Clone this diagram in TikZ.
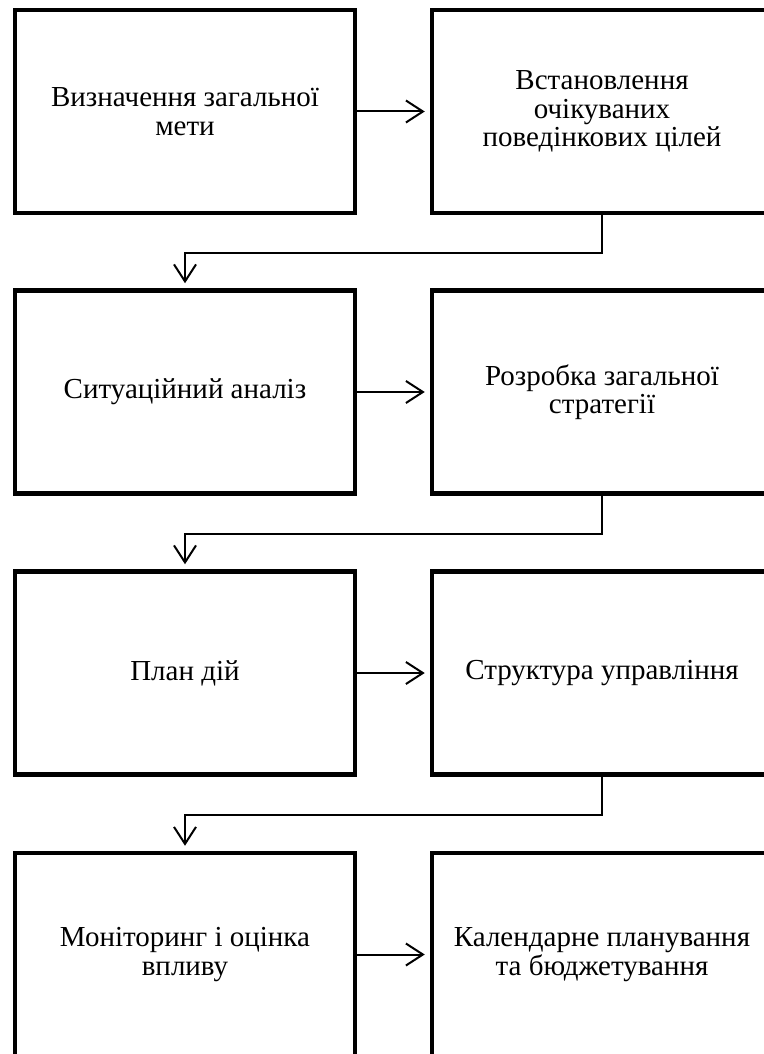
\documentclass[tikz,border=0pt]{standalone}
\usepackage{fontspec}
\setmainfont{Liberation Serif}
\usetikzlibrary{arrows.meta}
\begin{document}
\begin{tikzpicture}[x=1pt,y=-1pt,
  blk/.style={draw, line width=4.5pt, minimum width=340pt, minimum height=203pt,
    align=center, font=\fontsize{29}{28.5}\selectfont, inner sep=0pt},
  conn/.style={line width=2pt, -{Straight Barb[length=17pt,width=22pt,line width=2pt]}, shorten >=5pt}]
\useasboundingbox (0,0) rectangle (763,1054);
\node[blk] (L1) at (185,111.5) {Визначення загальної\\мети};
\node[blk] (R1) at (602,111.5) {Встановлення\\очікуваних\\поведінкових цілей};
\node[blk] (L2) at (185,392) {Ситуаційний аналіз};
\node[blk] (R2) at (602,392) {Розробка загальної\\стратегії};
\node[blk] (L3) at (185,673) {План дій};
\node[blk] (R3) at (602,673) {Структура управління};
\node[blk] (L4) at (185,954.5) {Моніторинг і оцінка\\впливу};
\node[blk] (R4) at (602,954.5) {Календарне планування\\та бюджетування};
\foreach \i in {1,2,3,4}{
  \draw[conn] (L\i.east) -- (R\i.west);
}
\foreach \i/\j in {1/2,2/3,3/4}{
  \draw[conn] (R\i.south) -- ++(0,38) -| (L\j.north);
}
\end{tikzpicture}
\end{document}
